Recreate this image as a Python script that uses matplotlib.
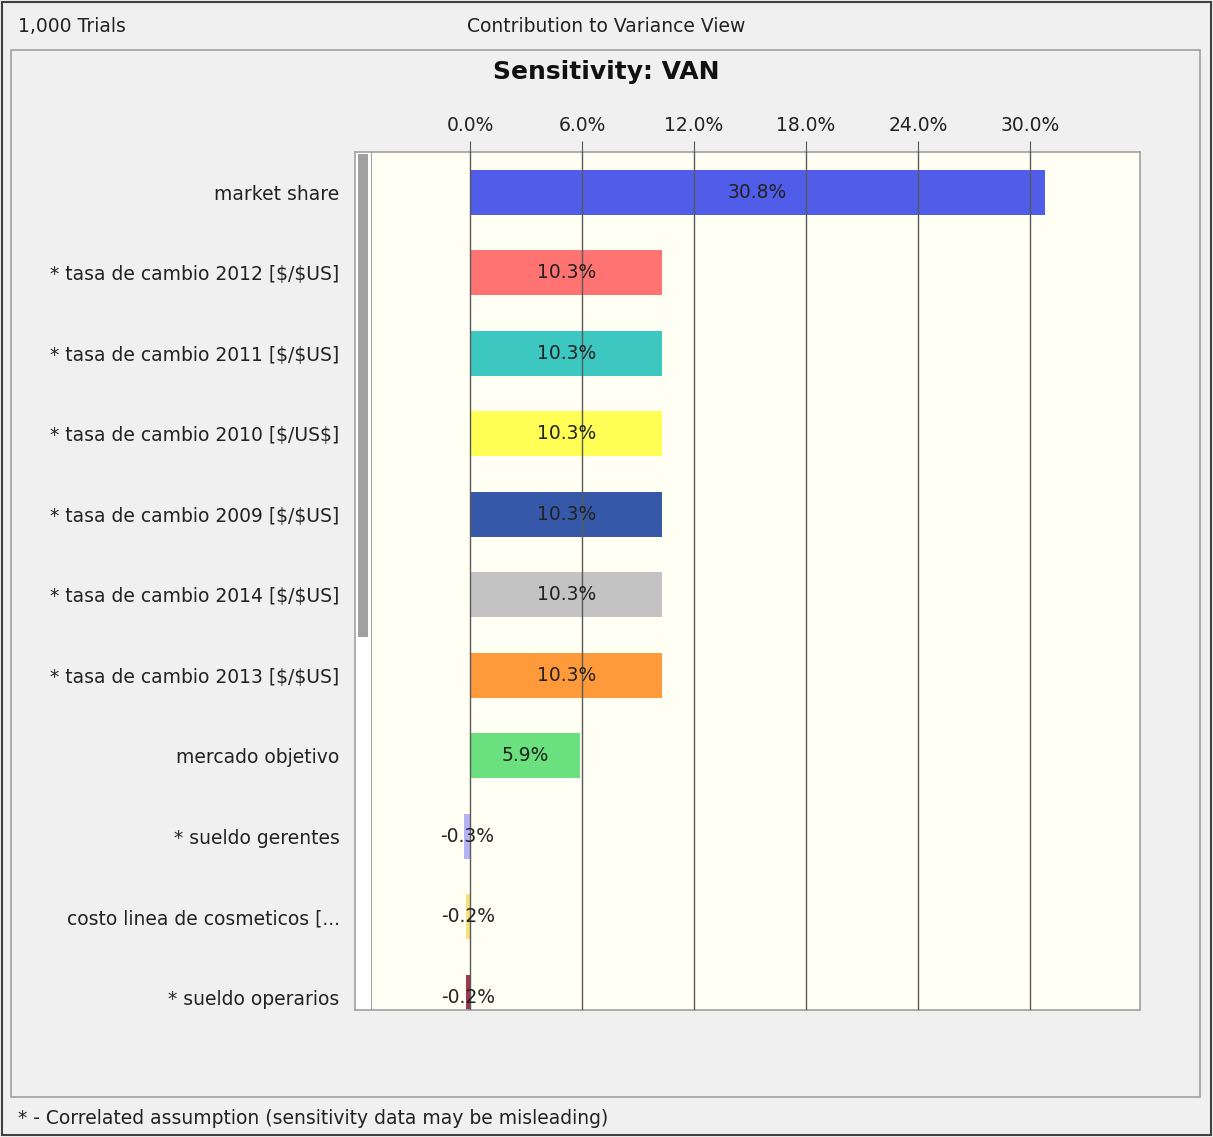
import matplotlib.pyplot as plt
from matplotlib.patches import Rectangle

# Data
labels = [
    "market share",
    "* tasa de cambio 2012 [\\$/\\$US]",
    "* tasa de cambio 2011 [\\$/\\$US]",
    "* tasa de cambio 2010 [\\$/US\\$]",
    "* tasa de cambio 2009 [\\$/\\$US]",
    "* tasa de cambio 2014 [\\$/\\$US]",
    "* tasa de cambio 2013 [\\$/\\$US]",
    "mercado objetivo",
    "* sueldo gerentes",
    "costo linea de cosmeticos [...",
    "* sueldo operarios",
]
values = [30.8, 10.3, 10.3, 10.3, 10.3, 10.3, 10.3, 5.9, -0.3, -0.2, -0.2]
colors = ["#4F5DE8", "#FF7373", "#3CC8C0", "#FFFF55", "#3658A8", "#C3C3C3",
          "#FF9A3A", "#6AE07E", "#B4B4F4", "#F5E27A", "#A03550"]
ticks = [0, 6, 12, 18, 24, 30]

W, H = 1213, 1137
fig = plt.figure(figsize=(W / 100, H / 100), dpi=100)
fig.patch.set_facecolor("#F0F0F0")
plt.rcParams['font.family'] = ['DejaVu Sans']
fs = 13.5
txt = "#222222"

def fx(px):
    return px / W

def fy(py):
    return 1 - py / H

# outer and inner frames
fig.add_artist(Rectangle((fx(2), fy(1135)), fx(1209), (1133) / H, fill=False,
                         edgecolor="#404040", lw=1.5, transform=fig.transFigure))
fig.add_artist(Rectangle((fx(11), fy(1097)), fx(1189), (1097 - 50) / H, fill=False,
                         edgecolor="#A0A0A0", lw=1.2, transform=fig.transFigure))

# header / footer
fig.text(fx(18), fy(26), "1,000 Trials", fontsize=fs, color=txt, va="center", ha="left")
fig.text(fx(606), fy(26), "Contribution to Variance View", fontsize=fs, color=txt,
         va="center", ha="center")
fig.text(fx(606), fy(72), "Sensitivity: VAN", fontsize=18, fontweight="bold",
         color="#111111", va="center", ha="center")
fig.text(fx(18), fy(1118), "* - Correlated assumption (sensitivity data may be misleading)",
         fontsize=fs, color=txt, va="center", ha="left")

# main axes
ax = fig.add_axes([fx(355), fy(1010), fx(1140 - 355), (1010 - 152) / H])
ax.set_facecolor("#FFFFF3")
y = list(range(len(values)))
ax.barh(y, values, height=0.56, color=colors, zorder=2)
for yi, v in zip(y, values):
    ax.text(v / 2, yi, f"{v:.1f}%", ha="center", va="center", fontsize=fs,
            color=txt, zorder=4)

ax.set_xlim(-6.16, 35.89)
ax.set_ylim(10.16, -0.5)
ax.set_xticks(ticks)
ax.set_xticklabels([f"{t:.1f}%" for t in ticks])
ax.xaxis.tick_top()
ax.tick_params(axis="x", length=8, color="#555555", labelsize=fs, labelcolor=txt, pad=4)
ax.set_yticks(y)
ax.set_yticklabels(labels)
ax.tick_params(axis="y", length=0, labelsize=fs, labelcolor=txt, pad=11)
ax.grid(axis="x", color="#5A5A5A", lw=1, zorder=3)
ax.set_axisbelow(False)
for s in ax.spines.values():
    s.set_color("#A0A0A0")
    s.set_linewidth(1.2)

# scrollbar strip on the left of the plot area
fig.add_artist(Rectangle((fx(356), fy(1009)), fx(15), (1009 - 153) / H, facecolor="#FFFFFF",
                         edgecolor="none", transform=fig.transFigure))
fig.add_artist(Rectangle((fx(371), fy(1010)), fx(1), (1010 - 152) / H, facecolor="#A0A0A0",
                         edgecolor="none", transform=fig.transFigure))
fig.add_artist(Rectangle((fx(358), fy(637)), fx(10), (637 - 154) / H, facecolor="#A0A0A0",
                         edgecolor="none", transform=fig.transFigure))

fig.savefig("out.png", dpi=100, facecolor=fig.get_facecolor())
